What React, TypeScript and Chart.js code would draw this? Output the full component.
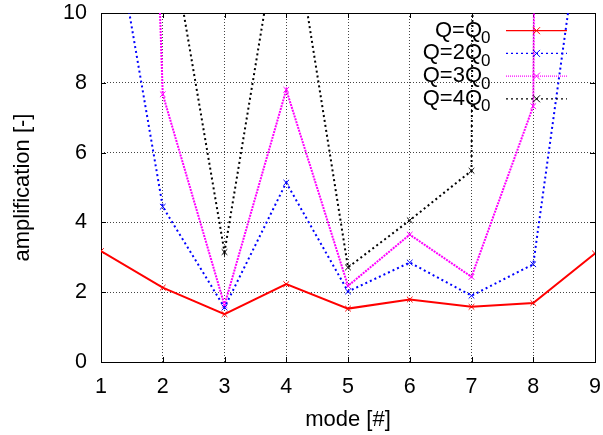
import React, { useEffect, useRef } from "react";
import { Chart, registerables } from "chart.js";

Chart.register(...registerables);

// Mode numbers on the x axis
const modes = [1, 2, 3, 4, 5, 6, 7, 8, 9];

// Amplification per mode for each quality factor (values above 10 run off the top of the plot)
const ampQ1 = [3.18, 2.13, 1.37, 2.23, 1.53, 1.79, 1.58, 1.69, 3.11];
const ampQ2 = [14.7, 4.45, 1.56, 5.14, 2.02, 2.85, 1.9, 2.8, 15.6];
const ampQ3 = [60, 7.67, 1.63, 7.8, 2.18, 3.65, 2.44, 7.33, 250];
const ampQ4 = [30, 13.5, 3.15, 13.8, 2.71, 4.06, 5.48, 280, 200];

const seriesLabels = ["Q=Q", "Q=2Q", "Q=3Q", "Q=4Q"];
const labelSubscript = "0";

const xTitle = "mode [#]";
const yTitle = "amplification [-]";

const FONT = "'Liberation Sans', Arial, Helvetica, sans-serif";

type Style = { color: string; width: number; dash: number[]; keyDash: number[] };
const styles: Style[] = [
  { color: "#ff0000", width: 2, dash: [], keyDash: [] },
  { color: "#0000ff", width: 2, dash: [2, 3], keyDash: [2, 3] },
  { color: "#ff00ff", width: 2, dash: [2, 1], keyDash: [1, 1] },
  { color: "#000000", width: 2, dash: [2, 3], keyDash: [2, 3] },
];

function drawCross(ctx: CanvasRenderingContext2D, x: number, y: number, r: number) {
  ctx.beginPath();
  ctx.moveTo(x - r, y - r);
  ctx.lineTo(x + r, y + r);
  ctx.moveTo(x - r, y + r);
  ctx.lineTo(x + r, y - r);
  ctx.stroke();
}

// Plot border with inward tick marks on all four sides
const framePlugin = {
  id: "frame",
  beforeDatasetsDraw(chart: any) {
    const { ctx, chartArea: a, scales } = chart;
    ctx.save();
    ctx.strokeStyle = "#000";
    ctx.lineWidth = 1;
    ctx.setLineDash([]);
    ctx.strokeRect(a.left + 0.5, a.top + 0.5, a.right - a.left, a.bottom - a.top);
    const len = 5;
    ctx.beginPath();
    for (const t of scales.x.ticks) {
      const px = Math.round(scales.x.getPixelForValue(t.value)) + 0.5;
      ctx.moveTo(px, a.bottom);
      ctx.lineTo(px, a.bottom - len);
      ctx.moveTo(px, a.top);
      ctx.lineTo(px, a.top + len);
    }
    for (const t of scales.y.ticks) {
      const py = Math.round(scales.y.getPixelForValue(t.value)) + 0.5;
      ctx.moveTo(a.left, py);
      ctx.lineTo(a.left + len, py);
      ctx.moveTo(a.right, py);
      ctx.lineTo(a.right - len, py);
    }
    ctx.stroke();
    ctx.restore();
  },
};

// Key in the upper right corner: right-aligned labels with a subscript, then a line sample
const keyPlugin = {
  id: "key",
  afterDraw(chart: any) {
    const { ctx, chartArea: a } = chart;
    const rowH = 22.7;
    const firstRow = a.top + 17.7;
    const textRight = a.right - 113;
    const sampleL = a.right - 89;
    const sampleR = a.right - 28;
    const markX = (sampleL + sampleR) / 2;
    ctx.save();
    seriesLabels.forEach((label, i) => {
      const cy = firstRow + i * rowH;
      const st = styles[i];
      ctx.fillStyle = "#000";
      ctx.textBaseline = "alphabetic";
      ctx.font = `22px ${FONT}`;
      ctx.textAlign = "right";
      ctx.fillText(label, textRight, cy + 6);
      ctx.font = `17px ${FONT}`;
      ctx.textAlign = "left";
      ctx.fillText(labelSubscript, textRight - 1, cy + 12.6);

      ctx.strokeStyle = st.color;
      ctx.lineWidth = 1.3;
      ctx.setLineDash(st.keyDash);
      ctx.beginPath();
      ctx.moveTo(sampleL, cy);
      ctx.lineTo(sampleR, cy);
      ctx.stroke();
      ctx.setLineDash([]);
      ctx.lineWidth = 1;
      drawCross(ctx, markX, cy, 3.5);
    });
    ctx.restore();
  },
};

export default function App() {
  const canvasRef = useRef<HTMLCanvasElement | null>(null);

  useEffect(() => {
    const canvas = canvasRef.current;
    if (!canvas) return;
    const series = [ampQ1, ampQ2, ampQ3, ampQ4];
    const chart = new Chart(canvas, {
      type: "line",
      data: {
        datasets: series.map((vals, i) => ({
          label: seriesLabels[i] + labelSubscript,
          data: modes.map((m, j) => ({ x: m, y: vals[j] })),
          borderColor: styles[i].color,
          borderWidth: styles[i].width,
          borderDash: styles[i].dash,
          pointStyle: "crossRot",
          pointRadius: 4,
          pointBorderWidth: 1,
          pointBorderColor: styles[i].color,
          pointBackgroundColor: styles[i].color,
          tension: 0,
          fill: false,
        })),
      },
      options: {
        responsive: false,
        animation: false,
        layout: { padding: 0 },
        plugins: {
          legend: { display: false },
          tooltip: { enabled: false },
        },
        scales: {
          x: {
            type: "linear",
            min: 1,
            max: 9,
            ticks: {
              stepSize: 1,
              color: "#000",
              font: { family: FONT, size: 21.5 },
              padding: 12,
              maxRotation: 0,
            },
            grid: {
              color: "#444",
              lineWidth: 1,
              drawTicks: false,
            },
            border: { display: false, dash: [1, 2] },
            title: {
              display: true,
              text: xTitle,
              color: "#000",
              font: { family: FONT, size: 22 },
              padding: { top: 0, bottom: 1.5 },
            },
            afterFit: (scale: any) => {
              scale.height = 73;
              scale.paddingLeft = 0;
              scale.paddingRight = 8;
            },
          },
          y: {
            type: "linear",
            min: 0,
            max: 10,
            ticks: {
              stepSize: 2,
              color: "#000",
              font: { family: FONT, size: 21.5 },
              padding: 14,
            },
            grid: {
              color: "#444",
              lineWidth: 1,
              drawTicks: false,
            },
            border: { display: false, dash: [1, 2] },
            title: {
              display: true,
              text: yTitle,
              color: "#000",
              font: { family: FONT, size: 22 },
              padding: { top: 10, bottom: 0 },
            },
            afterFit: (scale: any) => {
              scale.width = 101;
              scale.paddingTop = 13;
              scale.paddingBottom = 0;
            },
          },
        },
      },
      plugins: [framePlugin, keyPlugin],
    });
    return () => chart.destroy();
  }, []);

  return (
    <div style={{ position: "fixed", left: 0, top: 0, width: 603, height: 435, background: "#fff" }}>
      <canvas ref={canvasRef} width={603} height={435} />
    </div>
  );
}
